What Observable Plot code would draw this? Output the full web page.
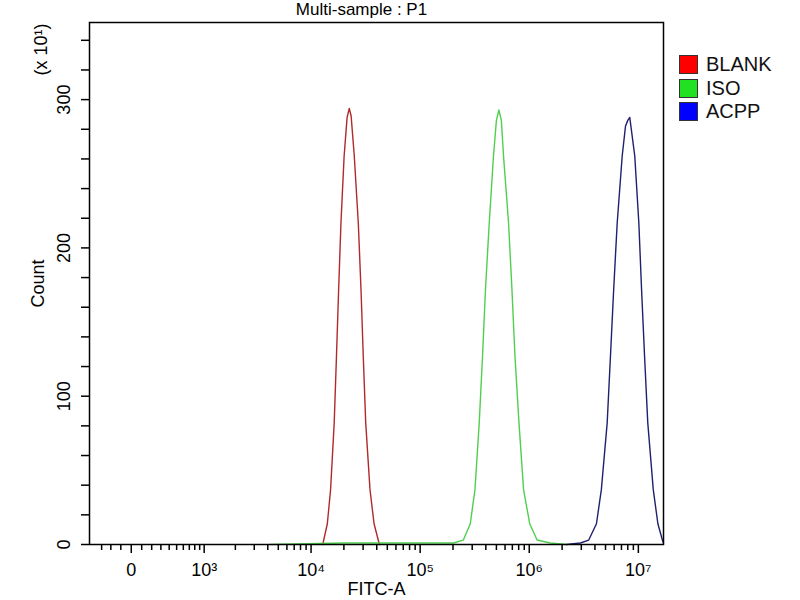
<!DOCTYPE html>
<html>
<head>
<meta charset="utf-8">
<script src="https://cdn.jsdelivr.net/npm/d3@7"></script>
<script src="https://cdn.jsdelivr.net/npm/@observablehq/plot@0.6"></script>
<style>
  body { margin: 0; background: white; font-family: "Liberation Sans", Arial, sans-serif; }
  #wrap { position: relative; width: 800px; height: 600px; }
  #legend { position: absolute; left: 679px; top: 53px; }
  .row { display: flex; align-items: center; height: 23.5px; }
  .sw { width: 17px; height: 17px; border: 1px solid #333; margin-right: 8px; }
  .lab { font-size: 20px; color: #111; }
</style>
</head>
<body>
<div id="wrap">
  <div id="chart"></div>
  <div id="legend"></div>
</div>
<script>
// histogram outlines: [FITC-A value, count (x10)]
const blank = [[12800,0],[14100,14],[15100,37],[16300,82],[17100,127],[17900,172],[18800,217],[20100,262],[21400,288],[22400,294],[23300,289],[24900,262],[27100,217],[28700,172],[30100,127],[31700,82],[34700,37],[37800,14],[42300,0]]
const iso = [[4200,0],[20000,1],[80000,1],[150000,1],[202000,1],[249000,3],[288000,14],[318000,37],[348000,82],[373000,127],[397000,172],[430000,217],[470000,262],[500000,286],[527000,293],[555000,286],[581000,262],[646000,217],[694000,172],[740000,127],[805000,82],[887000,37],[1010000,14],[1180000,3],[1560000,1],[2200000,0]]
const acpp = [[2200000,0],[2940000,1],[3510000,3],[4130000,14],[4580000,37],[5180000,82],[5550000,127],[5940000,172],[6400000,217],[7110000,262],[7620000,282],[8000000,286],[8340000,288],[9270000,262],[10100000,217],[10700000,172],[11400000,127],[12200000,82],[13700000,37],[15100000,14],[16600000,3],[17000000,1]]

const series = ["BLANK", "ISO", "ACPP"]
const lineColors = ["#b02a2a", "#4fcf4f", "#20206e"]
const swatchColors = ["#ff0000", "#22e022", "#0000ff"]

const xMajor = [0, 1e3, 1e4, 1e5, 1e6, 1e7]
const xMajorLabels = ["0", "10³", "10⁴", "10⁵", "10⁶", "10⁷"]
const xMinor = [-300,-200,-100,100,200,300,400,500,600,700,800,900,
  2e3,3e3,4e3,5e3,6e3,7e3,8e3,9e3, 2e4,3e4,4e4,5e4,6e4,7e4,8e4,9e4,
  2e5,3e5,4e5,5e5,6e5,7e5,8e5,9e5, 2e6,3e6,4e6,5e6,6e6,7e6,8e6,9e6]
const yMajor = [0, 100, 200, 300]
const yMinor = [20,40,60,80,120,140,160,180,220,240,260,280,320,340]

// biexponential-like display of the FITC axis
const fx = v => Math.asinh(v / 450)
const labelOf = new Map(xMajor.map((v, i) => [fx(v), xMajorLabels[i]]))

const font = '"Liberation Sans", Arial, sans-serif'

let chart = Plot.plot({
  width: 800,
  height: 600,
  marginLeft: 89,
  marginRight: 137,
  marginTop: 22,
  marginBottom: 56,
  x: { domain: [fx(-450), fx(1.7e7)], axis: null },
  y: { domain: [0, 352], axis: null },
  marks: [
    Plot.line(blank, { x: d => fx(d[0]), y: d => d[1], stroke: lineColors[0], strokeWidth: 1.4 }),
    Plot.line(iso, { x: d => fx(d[0]), y: d => d[1], stroke: lineColors[1], strokeWidth: 1.4 }),
    Plot.line(acpp, { x: d => fx(d[0]), y: d => d[1], stroke: lineColors[2], strokeWidth: 1.4 }),
    Plot.frame({ stroke: "black", strokeWidth: 1.5 }),
    Plot.axisX({ ticks: xMajor.map(fx), tickSize: 9, tickPadding: 10, strokeWidth: 1.5,
      tickFormat: d => labelOf.get(d), fontSize: 18, label: null }),
    Plot.axisX({ ticks: xMinor.map(fx), tickSize: 6, strokeWidth: 1.5, tickFormat: () => "", label: null }),
    Plot.axisY({ ticks: yMajor.concat(yMinor), tickSize: 8, strokeWidth: 1.5, tickFormat: () => "", label: null }),
    Plot.text(yMajor, { y: d => d, text: d => String(d), frameAnchor: "left", dx: -25,
      rotate: -90, textAnchor: "middle", lineAnchor: "middle", fontSize: 18 }),
    Plot.text(["Count"], { frameAnchor: "left", dx: -51, rotate: -90,
      textAnchor: "middle", lineAnchor: "middle", fontSize: 18 }),
    Plot.text(["(x 10¹)"], { frameAnchor: "top-left", dx: -48, dy: 27, rotate: -90,
      textAnchor: "middle", lineAnchor: "middle", fontSize: 18 }),
    Plot.text(["Multi-sample : P1"], { frameAnchor: "top", dx: -15, dy: -12.5,
      textAnchor: "middle", lineAnchor: "middle", fontSize: 17 }),
    Plot.text(["FITC-A"], { frameAnchor: "bottom", dy: 45,
      textAnchor: "middle", lineAnchor: "middle", fontSize: 18 })
  ],
  style: {
    fontFamily: font,
    background: "white",
    color: "black"
  }
})
d3.select('#chart').append(() => chart)

// legend on the right
const rows = d3.select('#legend').selectAll('div').data(series).join('div').attr('class', 'row')
rows.append('div').attr('class', 'sw').style('background', (d, i) => swatchColors[i])
rows.append('div').attr('class', 'lab').text(d => d)
</script>
</body>
</html>
